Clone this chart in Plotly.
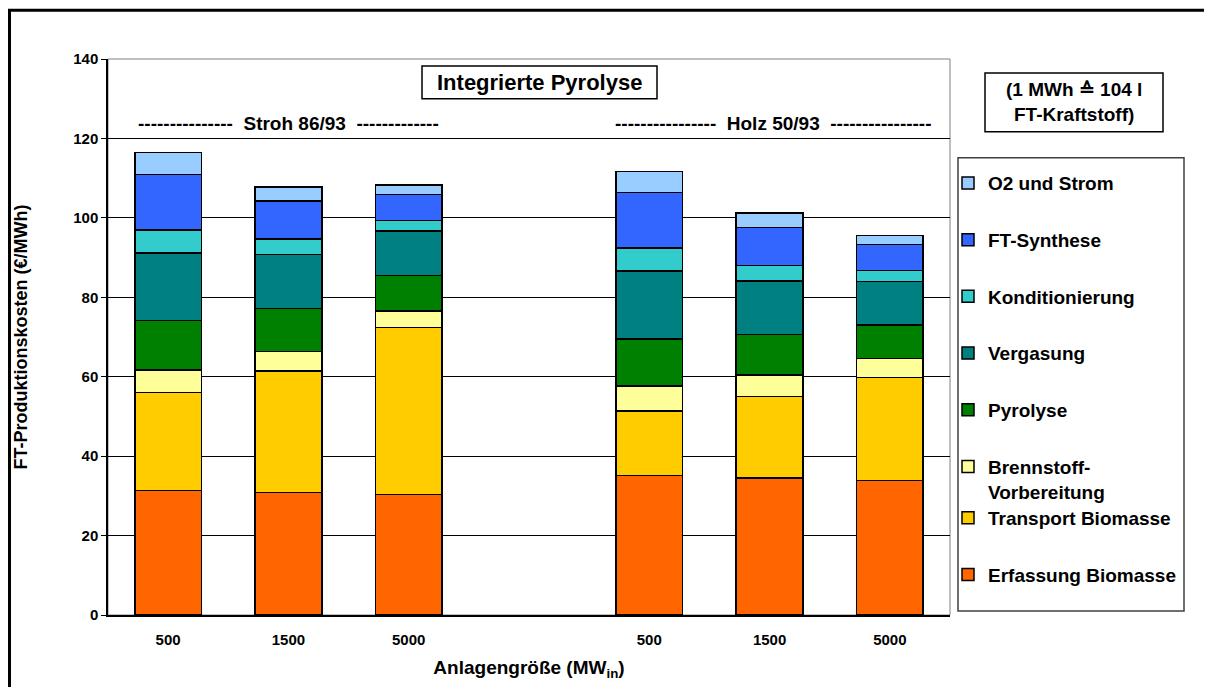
import plotly.graph_objects as go

# ---------------- data ----------------
groups = ["Stroh 86/93", "Holz 50/93"]
plant_sizes = ["500", "1500", "5000"]

erfassung = [31.4, 30.9, 30.4, 35.1, 34.5, 33.9]
transport = [24.6, 30.6, 42.0, 16.3, 20.5, 25.9]
brennstoff = [5.7, 4.8, 4.1, 6.3, 5.4, 4.8]
pyrolyse = [12.4, 10.9, 9.0, 11.8, 10.2, 8.4]
vergasung = [17.1, 13.6, 11.2, 17.1, 13.5, 11.0]
konditionierung = [5.7, 3.9, 2.6, 5.8, 3.9, 2.8]
ft_synthese = [14.0, 9.6, 6.6, 14.0, 9.6, 6.5]
o2_strom = [5.5, 3.5, 2.4, 5.3, 3.6, 2.3]

series_names = ["Erfassung Biomasse", "Transport Biomasse", "Brennstoff-<br>Vorbereitung",
                "Pyrolyse", "Vergasung", "Konditionierung", "FT-Synthese", "O2 und Strom"]
series_values = [erfassung, transport, brennstoff, pyrolyse, vergasung,
                 konditionierung, ft_synthese, o2_strom]
series_colors = ["#FF6600", "#FFCC00", "#FFFF99", "#008000", "#008080",
                 "#33CCCC", "#3366FF", "#99CCFF"]
series_legend = ["legend2", "legend2", "legend", "legend", "legend", "legend", "legend", "legend"]

# category positions: one empty slot between the two groups
x_pos = []
x_lbl = []
for gi, g in enumerate(groups):
    for si, s in enumerate(plant_sizes):
        x_pos.append(gi * (len(plant_sizes) + 1) + si)
        x_lbl.append(s)

FONT = "Liberation Sans, Arial, sans-serif"

fig = go.Figure()
n = len(series_names)
for i, (name, vals, col, leg) in enumerate(zip(series_names, series_values, series_colors, series_legend)):
    fig.add_trace(go.Bar(
        x=x_pos, y=vals, name=name, legend=leg, legendgroup=name,
        legendrank=n - i,
        marker=dict(color=col, line=dict(color="black", width=1.5)),
        width=0.555,
    ))

# page has an 8px body margin -> figure drawn at (8, 8) in the window
OFF = 8
W, H = 1212 - OFF, 687 - OFF
PL, PR, PT, PB = 108, 950, 59, 617   # plot area in window pixels
L, T = PL - OFF, PT - OFF
R, B = W - (PR - OFF), H - (PB - OFF)
pw, ph = PR - PL, PB - PT


def px(X):
    return (X - PL) / pw


def py(Y):
    return (PB - Y) / ph


legend_common = dict(
    xanchor="left", yanchor="top",
    traceorder="grouped", tracegroupgap=29, valign="top",
    bgcolor="rgba(0,0,0,0)", borderwidth=0,
    font=dict(size=19, weight="bold", family=FONT),
)

fig.update_layout(
    width=W, height=H,
    margin=dict(l=L, r=R, t=T, b=B),
    barmode="stack",
    plot_bgcolor="white", paper_bgcolor="white",
    font=dict(family=FONT, color="black"),
    xaxis=dict(
        tickvals=x_pos, ticktext=x_lbl, range=[-0.5, 6.5],
        showgrid=False, zeroline=False,
        showline=True, linecolor="black", linewidth=1.5,
        ticks="", ticklabelstandoff=10,
        tickfont=dict(size=15, weight="bold", family=FONT),
        title=dict(text="Anlagengröße (MW<sub>in</sub>)", standoff=14,
                   font=dict(size=19, weight="bold", family=FONT)),
    ),
    yaxis=dict(
        range=[0, 140], dtick=20,
        showgrid=True, gridcolor="black", gridwidth=1,
        zeroline=False,
        showline=True, linecolor="black", linewidth=1.5,
        ticks="outside", ticklen=5, tickcolor="black",
        tickfont=dict(size=15, weight="bold", family=FONT),
        title=dict(text="FT-Produktionskosten (€/MWh)", standoff=41,
                   font=dict(size=18, weight="bold", family=FONT)),
    ),
    legend=dict(x=px(948), y=py(164.5), **legend_common),
    legend2=dict(x=px(948), y=py(500.5), **legend_common),
    showlegend=True,
)

shapes = [
    # plot area border (gray)
    dict(type="rect", xref="paper", yref="paper", x0=0, x1=1, y0=0, y1=1,
         line=dict(color="#808080", width=1), layer="below"),
    # legend box
    dict(type="rect", xref="paper", yref="paper", x0=px(958), x1=px(1184),
         y0=py(613), y1=py(158), line=dict(color="#404040", width=1.5)),
    # title box
    dict(type="rect", xref="paper", yref="paper", x0=px(422), x1=px(657),
         y0=py(99), y1=py(66), line=dict(color="black", width=1.5), fillcolor="white"),
    # note box
    dict(type="rect", xref="paper", yref="paper", x0=px(985), x1=px(1163),
         y0=py(132), y1=py(73), line=dict(color="black", width=1.5), fillcolor="white"),
    # outer chart frame
    dict(type="rect", xref="paper", yref="paper", x0=px(9.5), x1=px(1240),
         y0=py(720), y1=py(10), line=dict(color="black", width=3)),
]
fig.update_layout(shapes=shapes)

annotations = [
    dict(text="Integrierte Pyrolyse", xref="paper", yref="paper",
         x=px(539.5), y=py(82.5), xanchor="center", yanchor="middle", showarrow=False,
         font=dict(size=22, weight="bold", family=FONT)),
    dict(text="---------------  " + groups[0] + "  -------------", xref="paper", yref="paper",
         x=px(288), y=py(124), xanchor="center", yanchor="middle", showarrow=False,
         font=dict(size=19, weight="bold", family=FONT)),
    dict(text="----------------  " + groups[1] + "  ----------------", xref="paper", yref="paper",
         x=px(773.5), y=py(124), xanchor="center", yanchor="middle", showarrow=False,
         font=dict(size=19, weight="bold", family=FONT)),
    dict(text="(1 MWh ≙ 104 l<br>FT-Kraftstoff)", xref="paper", yref="paper",
         x=px(1074), y=py(102.5), xanchor="center", yanchor="middle", showarrow=False,
         font=dict(size=19, weight="bold", family=FONT)),
]
fig.update_layout(annotations=annotations)

fig.write_html("out.html")
